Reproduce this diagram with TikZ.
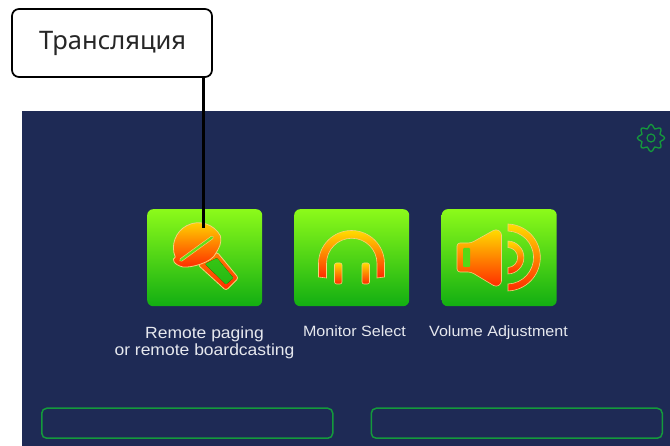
\documentclass[tikz,border=0pt]{standalone}
\usepackage{fontspec}
\setmainfont{Liberation Sans}
\newfontfamily\calloutfont{Noto Sans}
\definecolor{panelblue}{HTML}{1E2A55}
\definecolor{framegreen}{HTML}{149A3C}
\definecolor{btntop}{HTML}{8CFA1A}
\definecolor{btnbot}{HTML}{12AE12}
\definecolor{icotop}{HTML}{FFDD00}
\definecolor{icobot}{HTML}{FF2A00}
\definecolor{icoline}{HTML}{F5D27A}
\definecolor{labelgrey}{HTML}{E6E8EE}
\tikzset{
  btn/.style={minimum width=115pt,minimum height=97pt,inner sep=0pt,rounded corners=6pt,top color=btntop,bottom color=btnbot,anchor=north west},
  ico/.style={top color=icotop,bottom color=icobot,draw=icoline,line width=0.6pt},
  lbl/.style={text=labelgrey,align=center,inner sep=0pt,xscale=1.08,transform shape},
  slot/.style={draw=framegreen,line width=1.5pt,rounded corners=5pt,minimum height=30pt,minimum width=291pt,inner sep=0pt,anchor=north west},
}
\begin{document}
\begin{tikzpicture}[x=1pt,y=-1pt]
\useasboundingbox (0,0) rectangle (670,446);
\fill[panelblue] (22,111) rectangle (670,446);
% gear
\draw[framegreen,line width=1.3pt,smooth cycle,samples=48,domain=0:352.5]
  plot ({651+(11.7+1.9*cos(8*\x))*cos(\x)},{138+(11.7+1.9*cos(8*\x))*sin(\x)});
\draw[framegreen,line width=1.2pt] (651,138) circle[radius=4];
% buttons
\node[btn] (mic) at (147,209) {};
\node[btn] (mon) at (294,209) {};
\node[btn] (vol) at (441.5,209) {};
% microphone
\path[top color=orange,bottom color=icobot,draw=icoline,line width=0.8pt,rounded corners=2.5pt]
  (198,265) -- (217,252) -- (238.5,278) -- (226,290.5) -- cycle;
\fill[top color=btnbot!70!btntop,bottom color=btnbot!85!btntop,rounded corners=1pt]
  (205,264) -- (217,258) -- (233.5,278) -- (226,284.5) -- cycle;
\path[ico,line width=0.8pt] (220.5,236) arc[start angle=-28,end angle=-202,radius=25]
   .. controls (171,259) and (174,265) .. (183,267)
   .. controls (190,268) and (212,263) .. (216,253)
   .. controls (219,248) and (222,243) .. (220.5,236) -- cycle;
\draw[icoline,line width=3.4pt,line cap=round] (181,260) -- (212,237.5);
\draw[btntop!65!btnbot,line width=2.2pt,line cap=round] (181,260) -- (212,237.5);
% headphones
\path[ico] (318.5,277) -- (318.5,263.5) arc[start angle=180,end angle=360,radius=33] -- (384.5,277)
  -- (377,278) -- (377,263.5) arc[start angle=360,end angle=180,radius=25.25] -- (326.5,278) -- cycle;
\path[ico,rounded corners=2pt] (334.5,263) rectangle (342,284);
\path[ico,rounded corners=2pt] (362,263) rectangle (369.5,284);
% speaker
\path[ico,rounded corners=3pt] (457,243) -- (471,243) -- (496,229) -- (501.5,232) -- (501.5,284) -- (496,287) -- (471,272) -- (457,272) -- cycle;
\fill[btnbot!45!btntop,rounded corners=1pt] (463,248) rectangle (470,267);
\path[ico] (508,241) arc[start angle=-88,end angle=88,radius=16.5] -- (508,267.5) arc[start angle=88,end angle=-88,radius=10] -- cycle;
\path[ico] (508,224) arc[start angle=-88,end angle=88,radius=33.5] -- (508,284) arc[start angle=88,end angle=-88,radius=26.5] -- cycle;
% labels
\node[lbl,font=\fontsize{16.2}{17}\selectfont] (micLabel) at (204.5,342.5) {Remote paging\\or remote boardcasting};
\node[lbl,font=\fontsize{14.9}{17}\selectfont,anchor=base] (monLabel) at (354.5,337) {Monitor Select};
\node[lbl,font=\fontsize{14.9}{17}\selectfont,anchor=base] (volLabel) at (498.5,337) {Volume Adjustment};
% bottom slots
\node[slot] (slotL) at (41,407.5) {};
\node[slot] (slotR) at (370.5,407.5) {};
% callout
\node[draw=black,line width=1.7pt,rounded corners=7pt,fill=white,minimum width=200pt,minimum height=68pt,inner sep=0pt,font=\calloutfont\fontsize{25.5}{28}\selectfont,text=black!85,text width=148pt,align=center] (callout) at (112,43) {\hspace*{1pt}Трансляция};
\coordinate (micTip) at (203,228);
\draw[black,line width=3pt] (callout.south -| micTip) -- (micTip);
\end{tikzpicture}
\end{document}
